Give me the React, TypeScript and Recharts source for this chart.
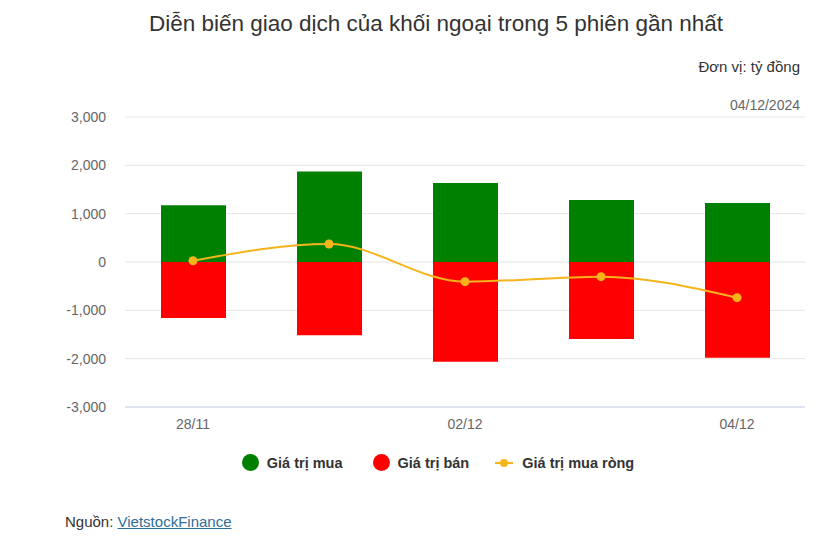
import { ComposedChart, Bar, Line, XAxis, YAxis, CartesianGrid } from 'recharts';

const sessions = ['28/11', '29/11', '02/12', '03/12', '04/12'];
const buyValues = [1174, 1870, 1636, 1284, 1221];
const sellValues = [-1160, -1518, -2063, -1594, -1980];
const netValues = [27, 373, -407, -303, -738];
const yTicks = [-3000, -2000, -1000, 0, 1000, 2000, 3000];

const data = sessions.map((s, i) => ({
  name: s,
  buy: buyValues[i],
  sell: sellValues[i],
  net: netValues[i],
}));

const font = '"Liberation Sans", Arial, sans-serif';
const fmt = (v: number) => v.toLocaleString('en-US');

export default function App() {
  return (
    <div style={{ position: 'absolute', left: 0, top: 0, width: 828, height: 552, background: '#fff', fontFamily: font }}>
      <div style={{ position: 'absolute', top: 11, left: 0, width: 872, textAlign: 'center', fontSize: 22.5, color: '#333' }}>
        Diễn biến giao dịch của khối ngoại trong 5 phiên gần nhất
      </div>
      <div style={{ position: 'absolute', top: 58, right: 28, fontSize: 15, color: '#333' }}>Đơn vị: tỷ đồng</div>
      <div style={{ position: 'absolute', top: 97, right: 28, fontSize: 14, color: '#666' }}>04/12/2024</div>

      <div style={{ position: 'absolute', top: 0, left: 0 }}>
        <ComposedChart
          width={828}
          height={440}
          data={data}
          stackOffset="sign"
          margin={{ top: 117, right: 23, bottom: 0, left: 0 }}
        >
          <CartesianGrid vertical={false} stroke="#e6e6e6" />
          <XAxis
            dataKey="name"
            interval={1}
            height={33}
            tickLine={false}
            axisLine={{ stroke: '#ccd6eb' }}
            tick={{ fill: '#666', fontSize: 14, fontFamily: font }}
            tickMargin={6}
          />
          <YAxis
            width={125}
            domain={[-3000, 3000]}
            ticks={yTicks}
            tickFormatter={fmt}
            axisLine={false}
            tickLine={false}
            tickSize={0}
            tickMargin={19}
            tick={{ fill: '#666', fontSize: 14, fontFamily: font }}
          />
          <Bar dataKey="buy" stackId="a" fill="#008000" barSize={65} isAnimationActive={false} />
          <Bar dataKey="sell" stackId="a" fill="#ff0000" barSize={65} isAnimationActive={false} />
          <Line
            type="monotone"
            dataKey="net"
            stroke="#F4B41A"
            strokeWidth={2}
            dot={{ r: 4.5, fill: '#F4B41A', stroke: '#F4B41A', strokeWidth: 0 }}
            isAnimationActive={false}
          />
        </ComposedChart>
      </div>

      <div style={{ position: 'absolute', top: 454, left: 0, width: 876, display: 'flex', justifyContent: 'center', fontSize: 14.5, fontWeight: 'bold', color: '#333' }}>
        <div style={{ display: 'flex', alignItems: 'center', marginRight: 30 }}>
          <span style={{ width: 17, height: 17, borderRadius: 9, background: '#008000', marginRight: 8 }} />
          Giá trị mua
        </div>
        <div style={{ display: 'flex', alignItems: 'center', marginRight: 26 }}>
          <span style={{ width: 17, height: 17, borderRadius: 9, background: '#ff0000', marginRight: 8 }} />
          Giá trị bán
        </div>
        <div style={{ display: 'flex', alignItems: 'center' }}>
          <svg width={18} height={10} style={{ marginRight: 9 }}>
            <line x1={0} y1={5} x2={18} y2={5} stroke="#F4B41A" strokeWidth={2} />
            <circle cx={9} cy={5} r={4} fill="#F4B41A" />
          </svg>
          Giá trị mua ròng
        </div>
      </div>

      <div style={{ position: 'absolute', top: 513, left: 65, fontSize: 15, color: '#333' }}>
        Nguồn: <span style={{ color: '#2f6e9a', textDecoration: 'underline' }}>VietstockFinance</span>
      </div>
    </div>
  );
}
